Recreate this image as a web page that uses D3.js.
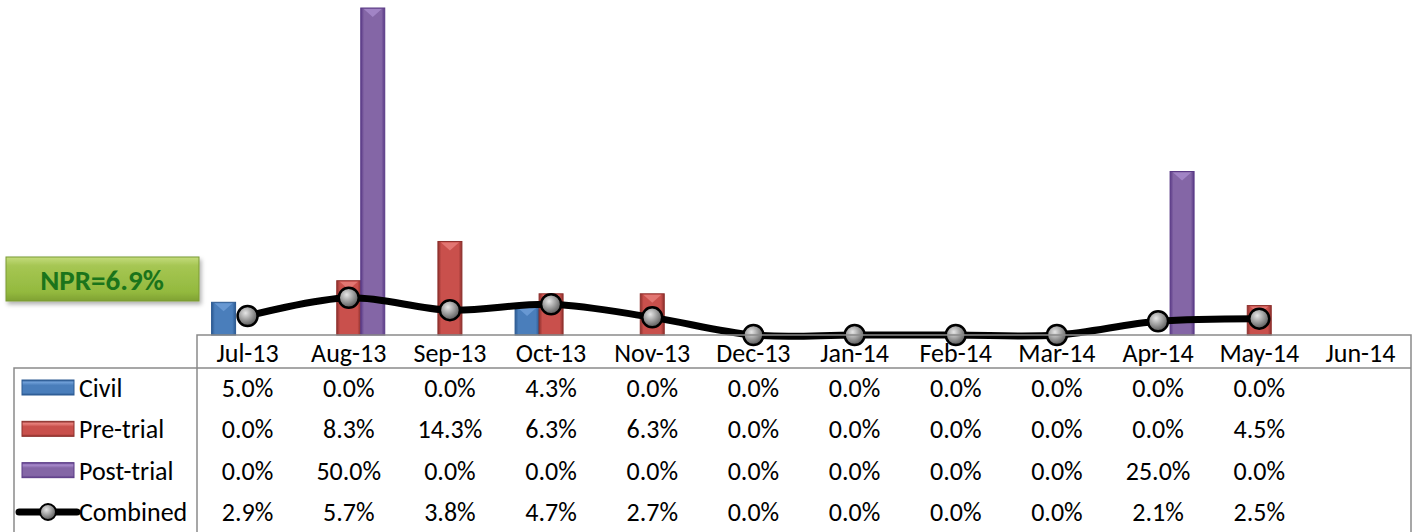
<html>
<script src='https://d3js.org/d3.v7.min.js'></script>
<style>
body {margin:0; background:#fff;}
text {font-family: Carlito, Calibri, "Open Sans", sans-serif; fill:#000;}
</style>
<body onload='init()'>
<svg width=1416 height=532></svg>
<script>
// data
var months = ["Jul-13","Aug-13","Sep-13","Oct-13","Nov-13","Dec-13","Jan-14","Feb-14","Mar-14","Apr-14","May-14","Jun-14"];
var civil     = [5.0, 0.0, 0.0, 4.3, 0.0, 0.0, 0.0, 0.0, 0.0, 0.0, 0.0, null];
var preTrial  = [0.0, 8.3, 14.3, 6.3, 6.3, 0.0, 0.0, 0.0, 0.0, 0.0, 4.5, null];
var postTrial = [0.0, 50.0, 0.0, 0.0, 0.0, 0.0, 0.0, 0.0, 0.0, 25.0, 0.0, null];
var combined  = [2.9, 5.7, 3.8, 4.7, 2.7, 0.0, 0.0, 0.0, 0.0, 2.1, 2.5, null];
var barNames = ["Civil","Pre-trial","Post-trial"];
var nprLabel = "NPR=6.9%";
var nprLevel = 7.8;   // where the green line sits in the picture

function init() {
var svg = d3.select("svg");
var defs = svg.append("defs");

var x = d3.scaleBand().domain(months).range([197,1411]);
var y = d3.scaleLinear().domain([0,50]).range([335,8]);
var xs = d3.scaleBand().domain(barNames).range([-36,36]);
var fmt = function(v) { return v == null ? "" : d3.format(".1f")(v) + "%"; };

var colors = {
  "Civil":      {base:"#4a7ebb", dark:"#2c5a92", light:"#6f9fd8"},
  "Pre-trial":  {base:"#c9504c", dark:"#8e302d", light:"#e8807c"},
  "Post-trial": {base:"#8466a6", dark:"#5a3a86", light:"#a98ccd"}
};

// bevel-ish gradients
barNames.forEach(function(n, i) {
  var c = colors[n];
  var g = defs.append("linearGradient").attr("id","bar"+i).attr("x1","0").attr("x2","1").attr("y1","0").attr("y2","0");
  g.append("stop").attr("offset","0").attr("stop-color",c.dark);
  g.append("stop").attr("offset","0.14").attr("stop-color",c.base);
  g.append("stop").attr("offset","0.5").attr("stop-color",c.base);
  g.append("stop").attr("offset","0.86").attr("stop-color",c.base);
  g.append("stop").attr("offset","1").attr("stop-color",c.dark);
  var v = defs.append("linearGradient").attr("id","leg"+i).attr("x1","0").attr("x2","0").attr("y1","0").attr("y2","1");
  v.append("stop").attr("offset","0").attr("stop-color",c.dark);
  v.append("stop").attr("offset","0.15").attr("stop-color",c.light);
  v.append("stop").attr("offset","0.35").attr("stop-color",c.base);
  v.append("stop").attr("offset","0.85").attr("stop-color",c.base);
  v.append("stop").attr("offset","1").attr("stop-color",c.dark);
});
var rg = defs.append("radialGradient").attr("id","dot").attr("cx","0.4").attr("cy","0.35").attr("r","0.65");
rg.append("stop").attr("offset","0").attr("stop-color","#e6e6e6");
rg.append("stop").attr("offset","0.5").attr("stop-color","#a0a0a0");
rg.append("stop").attr("offset","1").attr("stop-color","#5a5a5a");
var ng = defs.append("linearGradient").attr("id","npr").attr("x1","0").attr("x2","0").attr("y1","0").attr("y2","1");
ng.append("stop").attr("offset","0").attr("stop-color","#c4dc7c");
ng.append("stop").attr("offset","0.2").attr("stop-color","#a6c653");
ng.append("stop").attr("offset","0.8").attr("stop-color","#93b93e");
ng.append("stop").attr("offset","1").attr("stop-color","#7fa133");
var sh = defs.append("filter").attr("id","shadow").attr("x","-20%").attr("y","-20%").attr("width","140%").attr("height","160%");
sh.append("feDropShadow").attr("dx",2).attr("dy",3).attr("stdDeviation",2).attr("flood-color","#000").attr("flood-opacity",0.3);

var series = [civil, preTrial, postTrial];
var barData = [];
series.forEach(function(s, i) {
  s.forEach(function(v, j) { if (v) barData.push({name: barNames[i], idx: i, m: months[j], v: v}); });
});

// npr line (behind bars)
svg.append("line")
  .attr("x1",187).attr("x2",1391)
  .attr("y1",y(nprLevel)).attr("y2",y(nprLevel))
  .attr("stroke","#9bbb59").attr("stroke-width",5)
  .attr("filter","url(#shadow)");

var bars = svg.append("g").selectAll("g").data(barData).enter().append("g")
  .attr("transform", function(d) { return "translate(" + (x(d.m) + x.bandwidth()/2 + xs(d.name)) + ",0)"; });
bars.append("rect")
  .attr("x",0).attr("width",xs.bandwidth())
  .attr("y", function(d) { return y(d.v); })
  .attr("height", function(d) { return y(0) - y(d.v); })
  .attr("fill", function(d) { return "url(#bar" + d.idx + ")"; })
  .attr("stroke", function(d) { return colors[d.name].dark; })
  .attr("stroke-width",1);
bars.append("path")
  .attr("d", function(d) {
    var t = y(d.v) + 1, w = xs.bandwidth();
    var h = Math.min(8, (y(0) - y(d.v)) / 2);
    return "M3," + t + "L" + (w-3) + "," + t + "L" + (w/2) + "," + (t+h) + "Z";
  })
  .attr("fill", function(d) { return colors[d.name].light; })
  .attr("opacity",0.8);

// npr box
var nb = svg.append("g").attr("transform","translate(6," + (y(nprLevel) - 27) + ")");
nb.append("rect").attr("width",193).attr("height",44)
  .attr("fill","url(#npr)").attr("stroke","#7a9a35").attr("stroke-width",1)
  .attr("filter","url(#shadow)");
nb.append("text").attr("x",96).attr("y",23).attr("text-anchor","middle")
  .attr("dominant-baseline","central")
  .style("font-weight","bold").style("font-size","29px").style("fill","#1b741b")
  .text(nprLabel);

// combined line
var pts = combined.map(function(v, j) { return {m: months[j], v: v}; }).filter(function(d) { return d.v != null; });
var line = d3.line()
  .x(function(d) { return x(d.m) + x.bandwidth()/2; })
  .y(function(d) { return y(d.v); })
  .curve(d3.curveCatmullRom.alpha(0.5));
svg.append("path").datum(pts).attr("d",line)
  .attr("fill","none").attr("stroke","#000").attr("stroke-width",7).attr("stroke-linejoin","round");
svg.append("g").selectAll("circle").data(pts).enter().append("circle")
  .attr("cx", function(d) { return x(d.m) + x.bandwidth()/2; })
  .attr("cy", function(d) { return y(d.v); })
  .attr("r",10)
  .attr("fill","url(#dot)").attr("stroke","#000").attr("stroke-width",2.5);

// data table
var tbl = svg.append("g");
var gray = "#8a8a8a";
tbl.append("path")
  .attr("d","M197,532V335H1411V532 M14,532V368H1411")
  .attr("fill","none").attr("stroke",gray).attr("stroke-width",1.5);

tbl.selectAll("text.hdr").data(months).enter().append("text")
  .attr("class","hdr")
  .attr("x", function(d) { return x(d) + x.bandwidth()/2; })
  .attr("y",353).attr("text-anchor","middle").attr("dominant-baseline","central")
  .style("font-size","26px")
  .text(function(d) { return d; });

var rows = [civil, preTrial, postTrial, combined];
var rowNames = ["Civil","Pre-trial","Post-trial","Combined"];
var rowY = d3.scalePoint().domain(rowNames).range([388,512]);

rows.forEach(function(r, i) {
  var ry = rowY(rowNames[i]);
  tbl.append("g").selectAll("text").data(r).enter().append("text")
    .attr("x", function(d, j) { return x(months[j]) + x.bandwidth()/2; })
    .attr("y",ry).attr("text-anchor","middle").attr("dominant-baseline","central")
    .style("font-size","26px")
    .text(fmt);
  tbl.append("text").attr("x",79).attr("y",ry).attr("dominant-baseline","central")
    .style("font-size","26px").text(rowNames[i]);
  if (i < 3) {
    tbl.append("rect").attr("x",22).attr("y",ry - 8).attr("width",52).attr("height",15)
      .attr("fill","url(#leg" + i + ")").attr("stroke",colors[rowNames[i]].dark).attr("stroke-width",1);
  } else {
    tbl.append("line").attr("x1",19).attr("x2",77).attr("y1",ry).attr("y2",ry)
      .attr("stroke","#000").attr("stroke-width",7).attr("stroke-linecap","round");
    tbl.append("circle").attr("cx",48).attr("cy",ry).attr("r",8)
      .attr("fill","url(#dot)").attr("stroke","#000").attr("stroke-width",2);
  }
});
}
</script>
</body>
</html>
